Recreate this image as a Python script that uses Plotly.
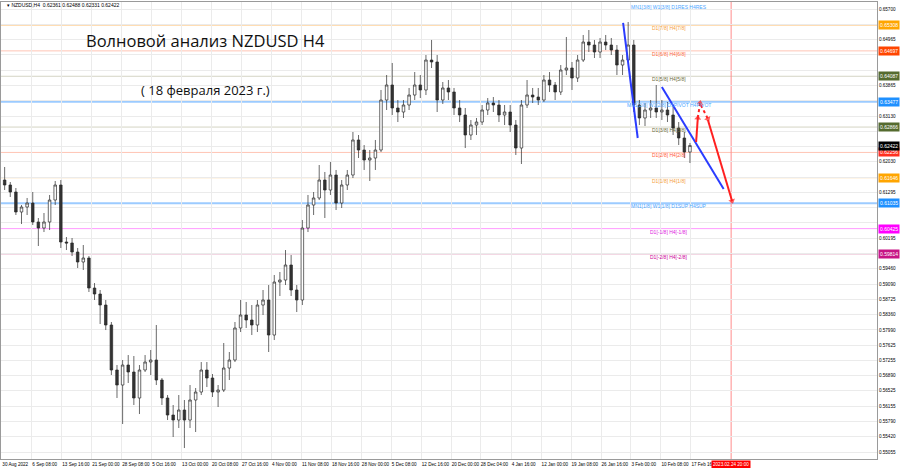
import plotly.graph_objects as go
import pandas as pd

# ---------------- data ----------------
symbol_info = "▾ NZDUSD,H4  0.62361 0.62488 0.62331 0.62422"
title_text = "Волновой анализ NZDUSD H4"
subtitle_text = "( 18 февраля 2023 г.)"

# daily OHLC (Aug 30 2022 .. Feb 17 2023)
opens = [0.61593, 0.61473, 0.61305, 0.60824, 0.60944, 0.61040, 0.60584, 0.60439, 0.60584, 0.61112,
         0.61473, 0.60103, 0.60079, 0.59862, 0.59622, 0.59718, 0.58997, 0.58853, 0.58588, 0.58108,
         0.57026, 0.56665, 0.57146, 0.56978, 0.56353, 0.57026, 0.57218, 0.57266, 0.56786, 0.56353,
         0.55944, 0.55824, 0.56064, 0.55824, 0.56305, 0.56497, 0.57026, 0.56834, 0.56497, 0.56545,
         0.57074, 0.57266, 0.58036, 0.58348, 0.58228, 0.58108, 0.58588, 0.58709, 0.57867, 0.59141,
         0.59189, 0.59550, 0.58949, 0.58709, 0.60439, 0.60992, 0.61161, 0.61593, 0.61353, 0.61713,
         0.61040, 0.61473, 0.61713, 0.62555, 0.62314, 0.62074, 0.62122, 0.62314, 0.63516, 0.63877,
         0.63324, 0.63228, 0.63396, 0.63636, 0.63877, 0.63757, 0.64477, 0.64430, 0.63516, 0.63805,
         0.63709, 0.63324, 0.63156, 0.62675, 0.62915, 0.62987, 0.63276, 0.63444, 0.63396, 0.63156,
         0.63228, 0.62915, 0.62362, 0.63396, 0.63636, 0.63588, 0.63516, 0.63997, 0.63877, 0.63709,
         0.64237, 0.64285, 0.64045, 0.64477, 0.64910, 0.64838, 0.64670, 0.64910, 0.64838, 0.64718,
         0.64357, 0.64477, 0.64838, 0.63396, 0.63084, 0.63276, 0.63324, 0.63228, 0.63276, 0.63156,
         0.62843, 0.62603, 0.62266]
highs = [0.61906, 0.61545, 0.61401, 0.60992, 0.61161, 0.61305, 0.60680, 0.60800, 0.61233, 0.61569,
         0.61593, 0.60223, 0.60199, 0.59959, 0.60031, 0.59766, 0.59117, 0.58949, 0.58709, 0.58180,
         0.57146, 0.57266, 0.57386, 0.57362, 0.57146, 0.57386, 0.57507, 0.58108, 0.56834, 0.56425,
         0.56185, 0.56425, 0.56305, 0.56665, 0.56593, 0.57218, 0.57218, 0.56930, 0.56665, 0.57675,
         0.57459, 0.58180, 0.58709, 0.58661, 0.58588, 0.58709, 0.58949, 0.59069, 0.59310, 0.59382,
         0.59910, 0.59790, 0.59069, 0.60632, 0.61233, 0.61305, 0.61954, 0.61786, 0.62026, 0.61834,
         0.61593, 0.61834, 0.62747, 0.62675, 0.62434, 0.62314, 0.62555, 0.63757, 0.64117, 0.64406,
         0.63516, 0.63516, 0.63805, 0.64189, 0.64117, 0.64598, 0.64959, 0.64598, 0.63949, 0.63997,
         0.63805, 0.63516, 0.63324, 0.63035, 0.63084, 0.63396, 0.63564, 0.63588, 0.63516, 0.63396,
         0.63396, 0.63035, 0.63516, 0.63997, 0.63805, 0.63805, 0.64117, 0.64189, 0.63949, 0.64357,
         0.65031, 0.64430, 0.64598, 0.65079, 0.65199, 0.64959, 0.65007, 0.65079, 0.65007, 0.64838,
         0.64598, 0.65391, 0.64959, 0.63516, 0.63444, 0.63516, 0.63877, 0.63516, 0.63468, 0.63396,
         0.62987, 0.62747, 0.62483]
lows = [0.61353, 0.61185, 0.60752, 0.60535, 0.60752, 0.60511, 0.60007, 0.60343, 0.60391, 0.60992,
        0.59959, 0.59910, 0.59766, 0.59478, 0.59430, 0.58901, 0.58709, 0.58132, 0.57987, 0.56906,
        0.56353, 0.55728, 0.56714, 0.56185, 0.55968, 0.56978, 0.56906, 0.56665, 0.56185, 0.55824,
        0.55416, 0.55632, 0.55151, 0.55632, 0.55536, 0.56425, 0.56617, 0.56377, 0.56137, 0.56497,
        0.56786, 0.57218, 0.57939, 0.58036, 0.57867, 0.57939, 0.58348, 0.57459, 0.57747, 0.58805,
        0.59069, 0.58805, 0.58420, 0.58588, 0.60343, 0.60752, 0.61112, 0.60680, 0.61233, 0.60872,
        0.60920, 0.61353, 0.61641, 0.62122, 0.61834, 0.61569, 0.61834, 0.62266, 0.63276, 0.63156,
        0.62987, 0.63084, 0.63276, 0.63516, 0.63564, 0.63636, 0.64285, 0.63228, 0.63420, 0.63516,
        0.63156, 0.62987, 0.62362, 0.62555, 0.62675, 0.62915, 0.63156, 0.63228, 0.62987, 0.62915,
        0.62747, 0.62194, 0.61978, 0.63324, 0.63444, 0.63396, 0.63468, 0.63709, 0.63516, 0.63636,
        0.64117, 0.63757, 0.63949, 0.64430, 0.64670, 0.64526, 0.64526, 0.64718, 0.64598, 0.64117,
        0.64117, 0.64430, 0.63228, 0.62915, 0.62891, 0.63084, 0.63084, 0.63035, 0.62987, 0.62675,
        0.62434, 0.62122, 0.62002]
closes = [0.61473, 0.61305, 0.60824, 0.60944, 0.61040, 0.60584, 0.60439, 0.60584, 0.61112, 0.61473,
          0.60103, 0.60079, 0.59862, 0.59622, 0.59718, 0.58997, 0.58853, 0.58588, 0.58108, 0.57026,
          0.56665, 0.57146, 0.56978, 0.56353, 0.57026, 0.57218, 0.57266, 0.56786, 0.56353, 0.55944,
          0.55824, 0.56064, 0.55824, 0.56305, 0.56497, 0.57026, 0.56834, 0.56497, 0.56545, 0.57074,
          0.57266, 0.58036, 0.58348, 0.58228, 0.58108, 0.58588, 0.58709, 0.57867, 0.59141, 0.59189,
          0.59550, 0.58949, 0.58709, 0.60439, 0.60992, 0.61161, 0.61593, 0.61353, 0.61713, 0.61040,
          0.61473, 0.61713, 0.62555, 0.62314, 0.62074, 0.62122, 0.62314, 0.63516, 0.63877, 0.63324,
          0.63228, 0.63396, 0.63636, 0.63877, 0.63757, 0.64477, 0.64430, 0.63516, 0.63805, 0.63709,
          0.63324, 0.63156, 0.62675, 0.62915, 0.62987, 0.63276, 0.63444, 0.63396, 0.63156, 0.63228,
          0.62915, 0.62362, 0.63396, 0.63636, 0.63588, 0.63516, 0.63997, 0.63877, 0.63709, 0.64237,
          0.64285, 0.64045, 0.64477, 0.64910, 0.64838, 0.64670, 0.64910, 0.64838, 0.64718, 0.64357,
          0.64477, 0.64838, 0.63396, 0.63084, 0.63276, 0.63324, 0.63228, 0.63276, 0.63156, 0.62843,
          0.62603, 0.62266, 0.62422]

time_ticks = ["2022-08-30 00:00", "2022-09-06 08:00", "2022-09-13 16:00", "2022-09-21 00:00",
              "2022-09-28 08:00", "2022-10-05 16:00", "2022-10-13 00:00", "2022-10-20 08:00",
              "2022-10-27 16:00", "2022-11-04 00:00", "2022-11-11 08:00", "2022-11-18 16:00",
              "2022-11-28 00:00", "2022-12-05 08:00", "2022-12-12 16:00", "2022-12-20 00:00",
              "2022-12-28 04:00", "2023-01-04 16:00", "2023-01-12 00:00", "2023-01-19 08:00",
              "2023-01-26 16:00", "2023-02-03 00:00", "2023-02-10 08:00", "2023-02-17 16:00"]
time_labels = ["30 Aug 2022", "6 Sep 08:00", "13 Sep 16:00", "21 Sep 00:00", "28 Sep 08:00",
               "5 Oct 16:00", "13 Oct 00:00", "20 Oct 08:00", "27 Oct 16:00", "4 Nov 00:00",
               "11 Nov 08:00", "18 Nov 16:00", "28 Nov 00:00", "5 Dec 08:00", "12 Dec 16:00",
               "20 Dec 00:00", "28 Dec 04:00", "4 Jan 16:00", "12 Jan 00:00", "19 Jan 08:00",
               "26 Jan 16:00", "3 Feb 00:00", "10 Feb 08:00", "17 Feb 16:00"]

price_ticks = [0.55055, 0.55420, 0.55790, 0.56155, 0.56525, 0.56890, 0.57255, 0.57625, 0.57990,
               0.58360, 0.58725, 0.59090, 0.59460, 0.59825, 0.60195, 0.60560, 0.60925, 0.61295,
               0.61660, 0.62030, 0.62395, 0.62765, 0.63130, 0.63500, 0.63865, 0.64230, 0.64600,
               0.64965, 0.65335, 0.65700]

last_bar_time = "2023-02-17 20:00"
future_time = "2023-02-24 20:00"
future_label = "2023.02.24 20:00"
current_price = 0.62422

level_values = [0.65918, 0.65308, 0.64697, 0.64087, 0.63477, 0.62866, 0.62256, 0.61646, 0.61035,
                0.60425, 0.59814]
level_names = ["MN1[3/8] W1[3/8] D1RES H4RES", "D1[7/8] H4[7/8]", "D1[6/8] H4[6/8]",
               "D1[5/8] H4[5/8]", "MN1[2/8] W1[2/8] D1PIVOT H4PIVOT", "D1[3/8] H4[3/8]",
               "D1[2/8] H4[2/8]", "D1[1/8] H4[1/8]", "MN1[1/8] W1[1/8] D1SUP H4SUP",
               "D1[-1/8] H4[-1/8]", "D1[-2/8] H4[-2/8]"]
level_text_colors = ["#4da6ff", "#f5a040", "#ff6a3d", "#6b6b3a", "#4da6ff", "#6b6b3a",
                     "#ff5a3a", "#f5a040", "#4da6ff", "#e020e0", "#cc0099"]
level_line_colors = ["#9ccbff", "#ffdcb0", "#ffc4b4", "#d4d4c4", "#9ccbff", "#d4d4c4",
                     "#ffc4b4", "#ffdcb0", "#9ccbff", "#ff9cff", "#e8b4cc"]
level_line_widths = [2, 1, 1, 1, 2, 1, 1, 1, 2, 1, 1]
level_box_colors = [None, "#ffa500", "#ff4500", "#556b2f", "#1e90ff", "#556b2f",
                    "#ff3020", "#ffa500", "#1e90ff", "#ff00ff", "#c71585"]

# analyst's drawings (bar index, price)
blue_line_1_x = [110.6, 113.2]
blue_line_1_y = [0.65368, 0.62603]
blue_line_2_x = [117.5, 128.5]
blue_line_2_y = [0.63829, 0.61377]
red_up_x = [123.6, 123.9]
red_up_y = [0.62507, 0.63084]
red_dot_up_x = [123.9, 124.3]
red_dot_up_y = [0.63084, 0.63444]
red_dot_down_x = [124.45, 125.7]
red_dot_down_y = [0.63396, 0.63060]
red_down_x = [125.7, 130.0]
red_down_y = [0.63036, 0.61089]

# ---------------- positions ----------------
Y_RANGE = [0.54887, 0.65872]
days = [d for d in pd.bdate_range("2022-08-30", "2023-02-17") if d != pd.Timestamp("2022-12-26")]
day_index = {d: i for i, d in enumerate(days)}
x_idx = [i + 0.5 for i in range(len(opens))]


def bar_pos(ts):
    t = pd.Timestamp(ts)
    return day_index[t.normalize()] + t.hour / 24.0


tick_pos = [bar_pos(t) for t in time_ticks]
last_pos = bar_pos(last_bar_time)
future_pos = last_pos + (pd.Timestamp(future_time) - pd.Timestamp(last_bar_time)).total_seconds() / 86400.0

box_values = [v for v, b in zip(level_values, level_box_colors) if b is not None] + [current_price]
price_text = ["" if any(abs(v - b) < 0.0016 for b in box_values) else f"{v:.5f}" for v in price_ticks]

FAM = "Liberation Sans, Arial, sans-serif"
SMALL = dict(family=FAM, size=4.6, color="#000000")

fig = go.Figure()

fig.add_trace(go.Candlestick(
    x=x_idx, open=opens, high=highs, low=lows, close=closes,
    increasing=dict(line=dict(color="#2a2a2a", width=0.7), fillcolor="#ffffff"),
    decreasing=dict(line=dict(color="#2a2a2a", width=0.7), fillcolor="#333333"),
    whiskerwidth=0, hoverinfo="skip", showlegend=False))


def arrow_trace(xs, ys, color, dash="solid", width=2, head=True):
    fig.add_trace(go.Scatter(
        x=xs, y=ys, mode="lines+markers" if head else "lines",
        line=dict(color=color, width=width, dash=dash),
        marker=dict(symbol="triangle-up", size=[0, 6] if head else 0, angleref="previous",
                    color=color, line=dict(width=0)),
        hoverinfo="skip", showlegend=False, cliponaxis=False))


arrow_trace(blue_line_1_x, blue_line_1_y, "#2a3cff", head=False)
arrow_trace(blue_line_2_x, blue_line_2_y, "#2a3cff", head=False)
arrow_trace(red_up_x, red_up_y, "#ff2020")
arrow_trace(red_dot_up_x, red_dot_up_y, "#ff2020", dash="dot")
arrow_trace(red_dot_down_x, red_dot_down_y, "#ff2020", dash="dot")
arrow_trace(red_down_x, red_down_y, "#ff2020")

shapes = []
annotations = []
for v, name, tc, lc, lw, bc in zip(level_values, level_names, level_text_colors,
                                   level_line_colors, level_line_widths, level_box_colors):
    shapes.append(dict(type="line", xref="paper", x0=0, x1=1, yref="y", y0=v, y1=v,
                       line=dict(color=lc, width=lw), layer="below"))
    if v > Y_RANGE[1]:
        pos = dict(yref="paper", y=1, yanchor="top", yshift=0)
    else:
        pos = dict(yref="y", y=v, yanchor="middle", yshift=-3)
    annotations.append(dict(xref="paper", x=0.762, text=name, showarrow=False,
                            xanchor="center", font=dict(family=FAM, size=5, color=tc), **pos))
    if bc is not None:
        annotations.append(dict(xref="paper", x=1, xanchor="left", xshift=1, yref="y", y=v,
                                yanchor="middle", text=f"{v:.5f}", showarrow=False,
                                bgcolor=bc, borderpad=1,
                                font=dict(family=FAM, size=5, color="#ffffff")))

annotations.append(dict(xref="paper", x=1, xanchor="left", xshift=1, yref="y", y=current_price,
                        yanchor="middle", text=f"{current_price:.5f}", showarrow=False,
                        bgcolor="#000000", borderpad=1,
                        font=dict(family=FAM, size=5, color="#ffffff")))

shapes.append(dict(type="line", xref="x", x0=future_pos, x1=future_pos, yref="paper", y0=0, y1=1,
                   line=dict(color="#ff8c8c", width=1), layer="below"))
annotations.append(dict(xref="x", x=future_pos, yref="paper", y=0, yanchor="top", yshift=-1,
                        xanchor="center", text=future_label, showarrow=False, bgcolor="#ff0000",
                        borderpad=1, font=dict(family=FAM, size=4.6, color="#ffffff")))

annotations.append(dict(xref="paper", x=0.004, yref="paper", y=0.993, xanchor="left",
                        yanchor="middle", text=symbol_info, showarrow=False,
                        font=dict(family=FAM, size=5, color="#000000")))
annotations.append(dict(xref="paper", x=0.234, yref="paper", y=0.915, xanchor="center",
                        yanchor="middle", text=title_text, showarrow=False,
                        font=dict(family="Open Sans, sans-serif", size=16.5, color="#111111")))
annotations.append(dict(xref="paper", x=0.233, yref="paper", y=0.807, xanchor="center",
                        yanchor="middle", text=subtitle_text, showarrow=False,
                        font=dict(family="Open Sans, sans-serif", size=13, color="#111111")))

fig.update_layout(
    width=900, height=468,
    margin=dict(l=1, r=23, t=2, b=9),
    paper_bgcolor="#ffffff", plot_bgcolor="#ffffff",
    showlegend=False, shapes=shapes, annotations=annotations, boxgap=0.35,
    xaxis=dict(range=[-0.15, 155.8], tickmode="array", tickvals=tick_pos, ticktext=time_labels,
               tickangle=0, ticklabelposition="outside right", tickfont=SMALL, ticks="",
               showgrid=True, gridcolor="#ebebeb", gridwidth=1, showline=True,
               linecolor="#9a9a9a", mirror=True, zeroline=False,
               rangeslider=dict(visible=False), fixedrange=True, automargin=False),
    yaxis=dict(side="right", range=Y_RANGE, tickmode="array", tickvals=price_ticks,
               ticktext=price_text, tickfont=SMALL, ticks="",
               showgrid=True, gridcolor="#ebebeb", gridwidth=1, showline=True,
               linecolor="#9a9a9a", mirror=True, zeroline=False, fixedrange=True,
               automargin=False),
)

fig.write_html("out.html", config={"displayModeBar": False},
               post_script="document.body.style.margin='0';")
